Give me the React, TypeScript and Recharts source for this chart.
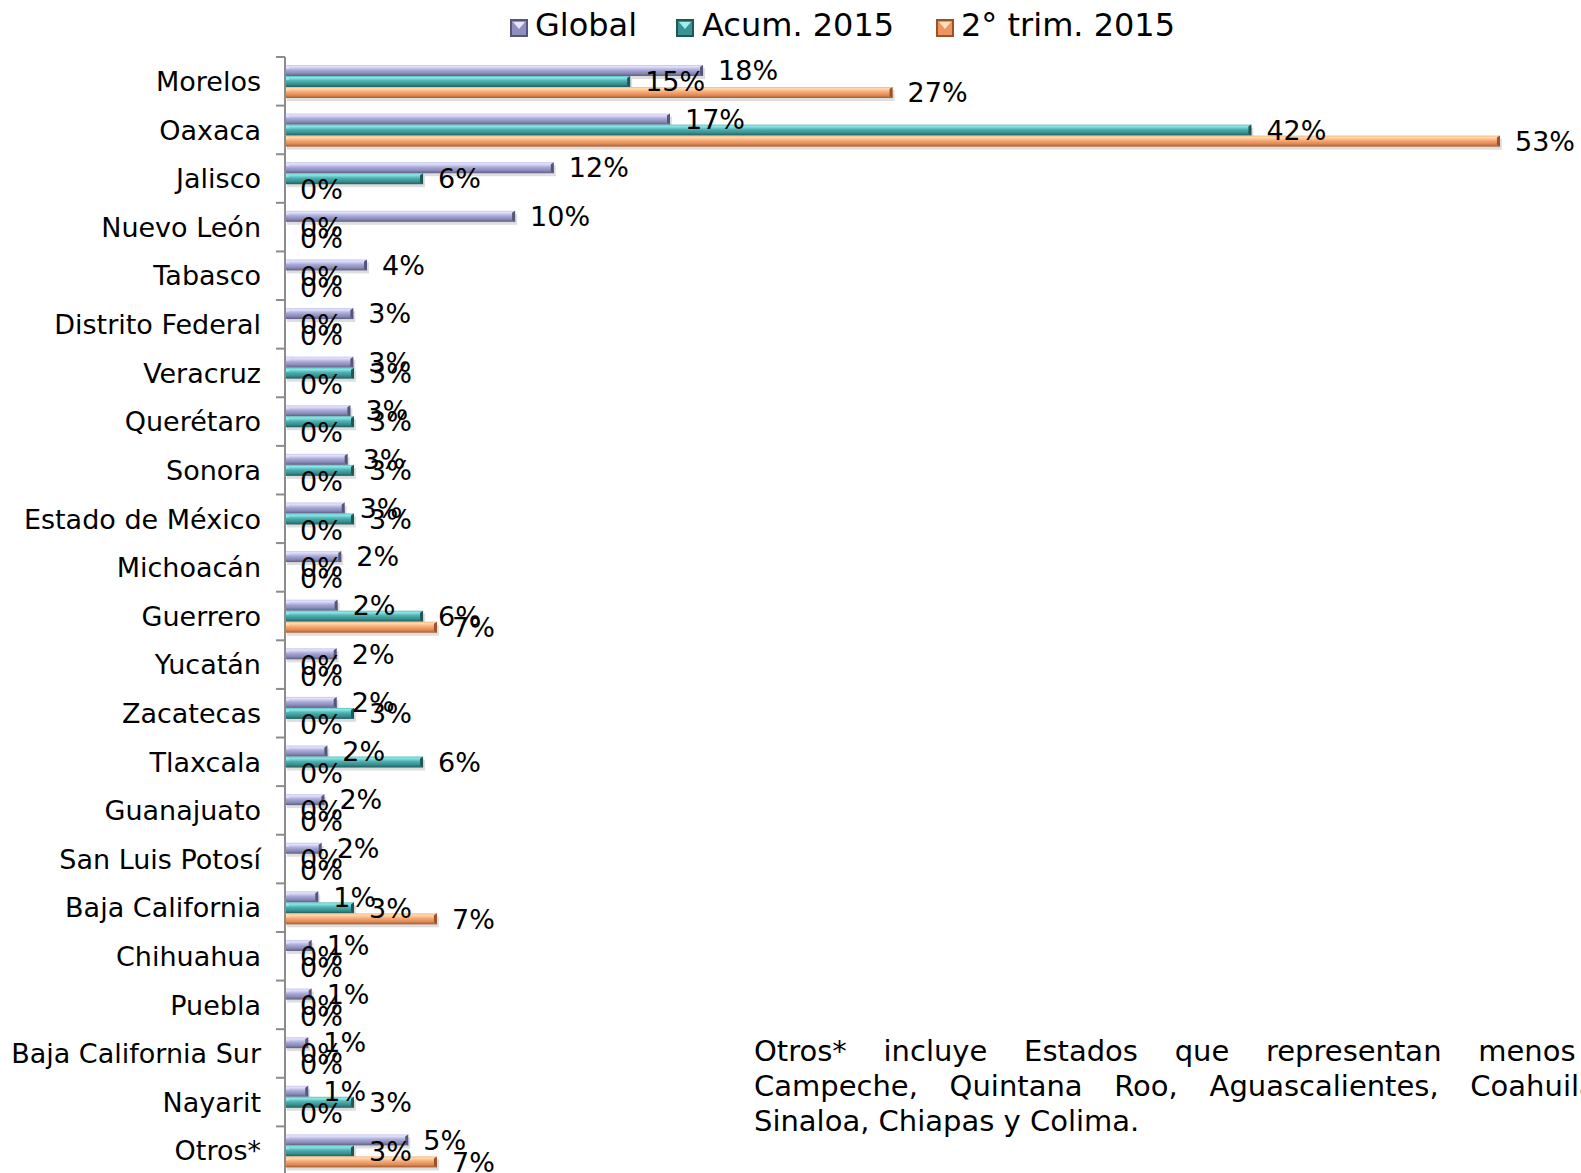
import React from 'react';
import { BarChart, Bar, XAxis, YAxis, Legend, LabelList } from 'recharts';

const categories = [
  'Morelos', 'Oaxaca', 'Jalisco', 'Nuevo León', 'Tabasco', 'Distrito Federal', 'Veracruz',
  'Querétaro', 'Sonora', 'Estado de México', 'Michoacán', 'Guerrero', 'Yucatán', 'Zacatecas',
  'Tlaxcala', 'Guanajuato', 'San Luis Potosí', 'Baja California', 'Chihuahua', 'Puebla',
  'Baja California Sur', 'Nayarit', 'Otros*',
];
const globalValues = [18.35, 16.9, 11.8, 10.1, 3.6, 3.0, 3.0, 2.87, 2.75, 2.62, 2.47, 2.31, 2.27, 2.27, 1.86, 1.73, 1.61, 1.46, 1.17, 1.17, 1.02, 1.02, 5.41];
const acumValues = [15.15, 42.42, 6.06, 0, 0, 0, 3.03, 3.03, 3.03, 3.03, 0, 6.06, 0, 3.03, 6.06, 0, 0, 3.03, 0, 0, 0, 3.03, 3.03];
const trimValues = [26.67, 53.33, 0, 0, 0, 0, 0, 0, 0, 0, 0, 6.67, 0, 0, 0, 0, 0, 6.67, 0, 0, 0, 0, 6.67];
const seriesNames = ['Global', 'Acum. 2015', '2° trim. 2015'];
const noteLines = [
  'Otros* incluye Estados que representan menos',
  'Campeche, Quintana Roo, Aguascalientes, Coahuila',
  'Sinaloa, Chiapas y Colima.',
];

const data = categories.map((name, i) => ({
  name,
  global: globalValues[i],
  acum: acumValues[i],
  trim: trimValues[i],
}));

const FONT = '"DejaVu Sans", Verdana, sans-serif';
const W = 1581;
const H = 1200;
const MARGIN = { top: 57, right: 43, bottom: 25, left: 0 };
const BAND = (H - MARGIN.top - MARGIN.bottom) / categories.length;
const NOTE_WORD_SPACING = [27.5, 22.5, 0];

const palettes = [
  { id: 'gGlobal', stops: ['#c4c4ec', '#e2e2ff', '#ababd8', '#8a8ab8', '#5e5e82'], dark: '#55557a', light: '#e6e6ff', base: '#8f8fbf' },
  { id: 'gAcum', stops: ['#5cbcbc', '#8ce8e8', '#4cb0b0', '#378e8e', '#235c5c'], dark: '#1f5656', light: '#9cf0f0', base: '#3a9494' },
  { id: 'gTrim', stops: ['#f2b484', '#ffdcae', '#f7a874', '#e08a56', '#a65a30'], dark: '#9a522a', light: '#ffe0b8', base: '#ee9460' },
];

const makeShape = (p: any) => (props: any) => {
  const { x, y, width, height } = props;
  if (!width || width < 0.5) return <g />;
  const e = Math.min(3, width / 2);
  return (
    <g>
      <rect x={x + 2} y={y + 3} width={width} height={height} fill="rgba(0,0,0,0.13)" />
      <rect x={x} y={y} width={width} height={height} fill={`url(#${p.id})`} />
      <polygon
        points={`${x + width - e},${y + 2} ${x + width},${y} ${x + width},${y + height} ${x + width - e},${y + height - 2}`}
        fill={p.dark}
      />
      <polygon points={`${x},${y} ${x + 4},${y + 2} ${x + 4},${y + 4} ${x},${y + 4}`} fill={p.light} opacity={0.6} />
    </g>
  );
};

const ValueLabel = (props: any) => {
  const { x, y, width, height, value } = props;
  return (
    <text
      x={x + (width || 0) + 15}
      y={y + height / 2}
      dy="0.36em"
      fontSize={27}
      fontFamily={FONT}
      fill="#000"
    >
      {`${Math.round(value)}%`}
    </text>
  );
};

const CategoryTick = (props: any) => {
  const { x, y, payload } = props;
  return (
    <g>
      <line x1={x - 9} x2={x} y1={y - BAND / 2} y2={y - BAND / 2} stroke="#8c8c8c" strokeWidth={2} />
      <text x={x - 24} y={y} dy="0.36em" textAnchor="end" fontSize={27} fontFamily={FONT} fill="#000">
        {payload.value}
      </text>
    </g>
  );
};

const legendX = [{ m: 510, t: 535 }, { m: 676, t: 702 }, { m: 936, t: 961 }];

const LegendMarker = ({ p }: any) => (
  <svg width={18} height={18} style={{ position: 'absolute', left: 0, top: 0 }}>
    <rect x={0} y={0} width={18} height={18} fill={p.dark} />
    <rect x={2} y={2} width={14} height={14} fill={p.base} />
    <polygon points="3,3 15,3 9,10" fill={p.light} />
  </svg>
);

const LegendContent = () => (
  <div style={{ position: 'relative', height: 0, width: W }}>
    {seriesNames.map((name, i) => (
      <div key={name}>
        <div style={{ position: 'absolute', left: legendX[i].m, top: 19, width: 18, height: 18 }}>
          <LegendMarker p={palettes[i]} />
        </div>
        <div
          style={{
            position: 'absolute',
            left: legendX[i].t,
            top: 6,
            fontSize: 32,
            lineHeight: '38px',
            fontFamily: FONT,
            color: '#000',
            whiteSpace: 'nowrap',
          }}
        >
          {name}
        </div>
      </div>
    ))}
  </div>
);

export default function App() {
  return (
    <div style={{ position: 'absolute', left: 0, top: 0, width: W, height: 1173, overflow: 'hidden', background: '#fff' }}>
      <BarChart width={W} height={H} data={data} layout="vertical" margin={MARGIN} barGap={0}>
        <defs>
          {palettes.map((p) => (
            <linearGradient key={p.id} id={p.id} x1="0" y1="0" x2="0" y2="1">
              <stop offset="0" stopColor={p.stops[0]} />
              <stop offset="0.15" stopColor={p.stops[1]} />
              <stop offset="0.45" stopColor={p.stops[2]} />
              <stop offset="0.75" stopColor={p.stops[3]} />
              <stop offset="1" stopColor={p.stops[4]} />
            </linearGradient>
          ))}
        </defs>
        <XAxis type="number" domain={[0, 55]} hide allowDataOverflow />
        <YAxis
          type="category"
          dataKey="name"
          width={285}
          interval={0}
          tickLine={false}
          tickSize={0}
          tickMargin={0}
          axisLine={{ stroke: '#8c8c8c', strokeWidth: 2 }}
          tick={<CategoryTick />}
        />
        <Legend
          verticalAlign="top"
          align="left"
          content={<LegendContent />}
          wrapperStyle={{ position: 'absolute', left: 0, top: 0, width: W, height: 0 }}
        />
        <Bar dataKey="global" name={seriesNames[0]} barSize={11} isAnimationActive={false} shape={makeShape(palettes[0])}>
          <LabelList dataKey="global" content={<ValueLabel />} />
        </Bar>
        <Bar dataKey="acum" name={seriesNames[1]} barSize={11} isAnimationActive={false} shape={makeShape(palettes[1])}>
          <LabelList dataKey="acum" content={<ValueLabel />} />
        </Bar>
        <Bar dataKey="trim" name={seriesNames[2]} barSize={11} isAnimationActive={false} shape={makeShape(palettes[2])}>
          <LabelList dataKey="trim" content={<ValueLabel />} />
        </Bar>
      </BarChart>
      <div style={{ position: 'absolute', left: 754, top: 1034, fontFamily: FONT, fontSize: 29, lineHeight: '35px', color: '#000' }}>
        {noteLines.map((line, i) => (
          <div key={i} style={{ whiteSpace: 'nowrap', wordSpacing: NOTE_WORD_SPACING[i] }}>
            {line}
          </div>
        ))}
      </div>
    </div>
  );
}
